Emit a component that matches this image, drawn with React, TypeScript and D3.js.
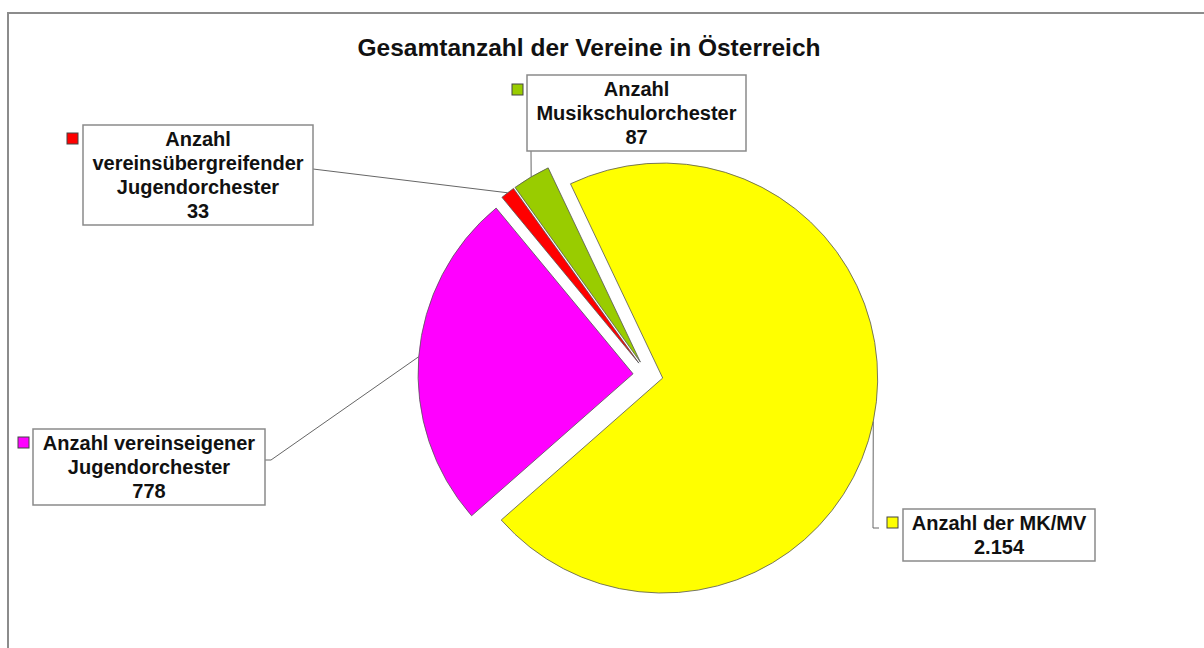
import React from "react";
import * as d3 from "d3";

const categories = [
  "Anzahl der MK/MV",
  "Anzahl vereinseigener Jugendorchester",
  "Anzahl vereinsübergreifender Jugendorchester",
  "Anzahl Musikschulorchester",
];
const values = [2154, 778, 33, 87];
const valueLabels = ["2.154", "778", "33", "87"];
const labelLines = [
  ["Anzahl der MK/MV"],
  ["Anzahl vereinseigener", "Jugendorchester"],
  ["Anzahl", "vereinsübergreifender", "Jugendorchester"],
  ["Anzahl", "Musikschulorchester"],
];
const colors = ["#FFFF00", "#FF00FF", "#FF0000", "#99CC00"];
const title = "Gesamtanzahl der Vereine in Österreich";

// label layout (box position, key position, leader elbow points)
const labelLayout = [
  { x: 903, y: 509, w: 192, keyX: 887, keyY: 517, elbow: [[873, 528], [879, 528]] },
  { x: 33, y: 429, w: 232, keyX: 18, keyY: 437, elbow: [[271, 460], [265, 460]] },
  { x: 83, y: 125, w: 230, keyX: 67, keyY: 133, elbow: [[313, 169]] },
  { x: 527, y: 75, w: 219, keyX: 512, keyY: 84, elbow: [[531, 151]] },
];

const W = 1204;
const H = 648;
const cx = 648;
const cy = 375;
const R = 215;
const explode = 15;
const startDeg = -25.4;
const LH = 24;
const FONT = "'Liberation Sans', Arial, sans-serif";

export default function App() {
  const data = categories.map((c, i) => ({ c, v: values[i], i }));
  const pie = d3
    .pie<any>()
    .value((d: any) => d.v)
    .sort(null)
    .startAngle((startDeg * Math.PI) / 180)
    .endAngle((startDeg * Math.PI) / 180 + 2 * Math.PI);
  const arcs = pie(data);
  const arc = d3.arc<any>().innerRadius(0).outerRadius(R);

  return (
    <svg
      width={W}
      height={H}
      style={{ position: "fixed", left: 0, top: 0, background: "#fff" }}
      fontFamily={FONT}
    >
      <rect x={0} y={0} width={W} height={H} fill="#fff" />
      <rect x={8} y={13} width={W + 50} height={H + 50} fill="none" stroke="#8c8c8c" strokeWidth={2} />
      <text x={589} y={56} textAnchor="middle" fontSize={24.5} fontWeight="bold" fill="#111">
        {title}
      </text>
      <g>
        {arcs.map((a: any, i: number) => {
          const mid = (a.startAngle + a.endAngle) / 2;
          const ox = cx + explode * Math.sin(mid);
          const oy = cy - explode * Math.cos(mid);
          return (
            <path
              key={i}
              d={arc(a) as string}
              transform={`translate(${ox},${oy})`}
              fill={colors[i]}
              stroke="#555"
              strokeWidth={0.8}
            />
          );
        })}
      </g>
      <g>
        {arcs.map((a: any, i: number) => {
          const mid = (a.startAngle + a.endAngle) / 2;
          const px = cx + (explode + R) * Math.sin(mid);
          const py = cy - (explode + R) * Math.cos(mid);
          const L = labelLayout[i];
          const pts = [[px, py], ...L.elbow];
          const line = d3.line()(pts as [number, number][]) as string;
          const lines = [...labelLines[i], valueLabels[i]];
          const h = lines.length * LH + 4;
          return (
            <g key={i}>
              <path d={line} fill="none" stroke="#666" strokeWidth={1} />
              <rect x={L.x} y={L.y} width={L.w} height={h} fill="#fff" stroke="#8a8a8a" strokeWidth={1.5} />
              <rect x={L.keyX} y={L.keyY} width={11} height={11} fill={colors[i]} stroke="#444" strokeWidth={1} />
              {lines.map((t, j) => (
                <text
                  key={j}
                  x={L.x + L.w / 2}
                  y={L.y + 14 + j * LH + 7}
                  textAnchor="middle"
                  fontSize={20}
                  fontWeight="bold"
                  fill="#111"
                >
                  {t}
                </text>
              ))}
            </g>
          );
        })}
      </g>
    </svg>
  );
}
